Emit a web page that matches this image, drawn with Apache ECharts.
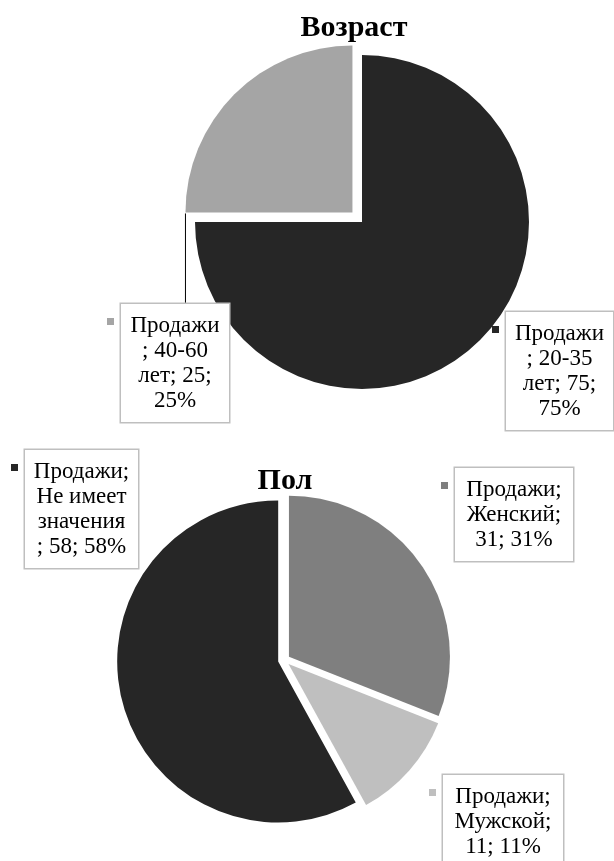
<!DOCTYPE html>
<html>
<head>
<meta charset="utf-8">
<script src="https://cdn.jsdelivr.net/npm/echarts@6/dist/echarts.min.js"></script>
<style>
html, body { margin: 0; padding: 0; background: #fff; }
#chart { width: 614px; height: 861px; }
</style>
</head>
<body>
<div id="chart"></div>
<script>
const seriesName = 'Продажи'
const ageTitle = 'Возраст'
const ageNames = ['20-35 лет', '40-60 лет']
const ageValues = [75, 25]
const genderTitle = 'Пол'
const genderNames = ['Женский', 'Мужской', 'Не имеет значения']
const genderValues = [31, 11, 58]

const ageColors = ['#262626', '#a5a5a5']
const genderColors = ['#7f7f7f', '#bfbfbf', '#262626']
const ageExploded = [false, true]

const FONT = '"Liberation Serif", "Times New Roman", serif'
const LABEL_SIZE = 23
const LINE_H = 25
const TITLE_SIZE = 30
// cyrillic in the original font runs a bit wider, so add some tracking when wrapping
const WRAP_TRACK = 5

// pie geometry
const agePie = { cx: 362, cy: 222, r: 167, offset: 13.5, titleX: 354, titleY: 13 }
const genderPie = { cx: 284, cy: 660, r: 161, offset: 6, titleX: 285, titleY: 466 }

// label boxes: left, top, box width, wrap width
const ageBoxes = [
  { x: 506, y: 312, w: 107, wrap: 130 },
  { x: 121, y: 304, w: 108, wrap: 130 }
]
const genderBoxes = [
  { x: 455, y: 468, w: 118, wrap: 145 },
  { x: 443, y: 775, w: 120, wrap: 145 },
  { x: 25, y: 450, w: 113, wrap: 137.5 }
]

const ctx = document.createElement('canvas').getContext('2d')
function textWidth (s, font) {
  ctx.font = font
  return ctx.measureText(s).width
}
const labelFont = LABEL_SIZE + 'px ' + FONT
function fits (s, w) { return textWidth(s, labelFont) + WRAP_TRACK * s.length <= w }

// greedy wrap like the office label boxes
function wrap (text, w) {
  const lines = []
  let cur = ''
  text.split(' ').forEach(word => {
    const cand = cur ? cur + ' ' + word : word
    if (fits(cand, w)) { cur = cand; return }
    if (cur) lines.push(cur)
    while (!fits(word, w)) {
      let k = word.length - 1
      while (k > 1 && !fits(word.slice(0, k), w)) k--
      lines.push(word.slice(0, k))
      word = word.slice(k)
    }
    cur = word
  })
  if (cur) lines.push(cur)
  return lines.join('\n')
}

// visible slices (exploded ones are "selected")
function pieSeries (pie, names, values, colors, exploded) {
  return {
    type: 'pie',
    name: seriesName,
    center: [pie.cx, pie.cy],
    radius: pie.r,
    startAngle: 90,
    clockwise: true,
    selectedMode: 'multiple',
    selectedOffset: pie.offset,
    silent: true,
    itemStyle: { borderWidth: 0 },
    label: { show: false },
    labelLine: { show: false },
    data: names.map((n, i) => ({
      name: n,
      value: values[i],
      selected: exploded[i],
      itemStyle: { color: colors[i] },
      select: { itemStyle: { color: colors[i] } }
    }))
  }
}

// same data again, transparent, only to carry the label boxes
function labelSeries (pie, names, values, boxes) {
  return {
    type: 'pie',
    name: seriesName,
    center: [pie.cx, pie.cy],
    radius: pie.r,
    startAngle: 90,
    clockwise: true,
    avoidLabelOverlap: false,
    silent: true,
    itemStyle: { color: 'rgba(0,0,0,0)', borderWidth: 0 },
    data: names.map((n, i) => ({
      name: n,
      value: values[i],
      label: { width: boxes[i].w - 16 }
    })),
    label: {
      show: true,
      position: 'outside',
      formatter: p => wrap(p.seriesName + '; ' + p.name + '; ' + p.value + '; ' + Math.round(p.percent) + '%', boxes[p.dataIndex].wrap),
      fontFamily: FONT,
      fontSize: LABEL_SIZE,
      lineHeight: LINE_H,
      color: '#000',
      backgroundColor: '#fff',
      borderColor: '#bfbfbf',
      borderWidth: 1.5,
      padding: [9, 8],
      align: 'center',
      overflow: 'none'
    },
    labelLine: { show: false },
    labelLayout: p => {
      const b = boxes[p.dataIndex]
      return { x: b.x + b.w / 2, y: b.y, align: 'center', verticalAlign: 'top' }
    }
  }
}

// legend keys in front of each label box
function markers (boxes, colors) {
  return boxes.map((b, i) => ({
    type: 'rect',
    shape: { x: b.x - 14, y: b.y + 14, width: 7, height: 7 },
    style: { fill: colors[i] }
  }))
}

// leader line for the exploded 40-60 slice: from end of its lower radial edge down to the box
function leader () {
  const total = ageValues.reduce((a, b) => a + b, 0)
  const start = ageValues[0] / total * 360
  const mid = (start + 360) / 2 * Math.PI / 180
  const ox = agePie.cx + agePie.offset * Math.sin(mid)
  const oy = agePie.cy - agePie.offset * Math.cos(mid)
  const edge = start * Math.PI / 180
  const x = ox + agePie.r * Math.sin(edge)
  const y = oy - agePie.r * Math.cos(edge)
  return {
    type: 'line',
    shape: { x1: x, y1: y + 1, x2: x, y2: ageBoxes[1].y },
    style: { stroke: '#000', lineWidth: 1 }
  }
}

function title (text, cx, top) {
  const w = textWidth(text, 'bold ' + TITLE_SIZE + 'px ' + FONT)
  return {
    text: text,
    left: cx - w / 2,
    top: top,
    padding: 0,
    textStyle: { fontFamily: FONT, fontSize: TITLE_SIZE, fontWeight: 'bold', color: '#000' }
  }
}

const chart = echarts.init(document.getElementById('chart'))
chart.setOption({
  animation: false,
  backgroundColor: '#fff',
  title: [
    title(ageTitle, agePie.titleX, agePie.titleY),
    title(genderTitle, genderPie.titleX, genderPie.titleY)
  ],
  series: [
    pieSeries(agePie, ageNames, ageValues, ageColors, ageExploded),
    pieSeries(genderPie, genderNames, genderValues, genderColors, genderNames.map(() => true)),
    labelSeries(agePie, ageNames, ageValues, ageBoxes),
    labelSeries(genderPie, genderNames, genderValues, genderBoxes)
  ],
  graphic: [leader()].concat(markers(ageBoxes, ageColors), markers(genderBoxes, genderColors))
})
</script>
</body>
</html>
